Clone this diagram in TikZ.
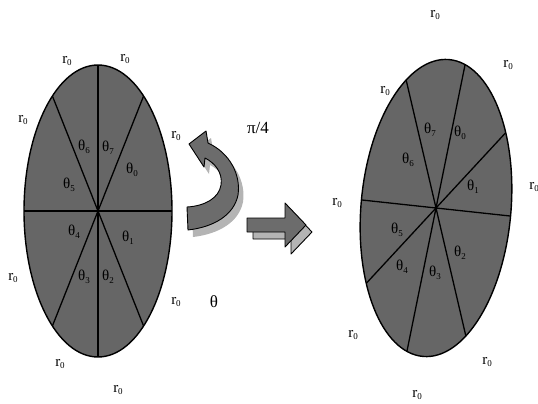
\documentclass[tikz,border=0pt]{standalone}
\usepackage{fontspec}
\setmainfont{Liberation Serif}
\definecolor{discgray}{RGB}{102,102,102}
\definecolor{arrgray}{RGB}{108,108,108}
\definecolor{shadegray}{RGB}{180,180,180}
\newcommand{\lowsub}[1]{\raisebox{-0.4ex}{\fontsize{9}{9}\selectfont #1}}
\newcommand{\rz}{r\lowsub{0}}
\newcommand{\tq}[1]{θ\lowsub{#1}}
\begin{document}
\begin{tikzpicture}[x=1pt,y=-1pt,
  rim/.style={draw=black, line width=1.4pt},
  ray/.style={draw=black, line width=1.3pt},
  lab/.style={inner sep=0pt, font=\fontsize{15}{15}\selectfont},
  arr/.style={fill=arrgray, draw=black, line width=0.9pt, line join=round},
  shadowarr/.style={fill=shadegray, draw=black, line width=0.9pt, line join=round},
  softshadow/.style={fill=shadegray, draw=none}]
\useasboundingbox (0,0) rectangle (538,404);

% ---------- left disc ----------
\coordinate (L) at (98,211);
\begin{scope}
  \clip (L) ellipse [x radius=74pt, y radius=146pt];
  \fill[discgray] (L) ellipse [x radius=74pt, y radius=146pt];
  \draw[ray] (L) -- +(0,-170) (L) -- +(0,170);
  \draw[ray] (L) -- +(-90,0) (L) -- +(90,0);
  \draw[ray] (L) -- +(45.6,-115) (L) -- +(-45.6,115);
  \draw[ray] (L) -- +(-45.6,-115) (L) -- +(45.6,115);
\end{scope}
\draw[rim] (L) ellipse [x radius=74pt, y radius=146pt];

% ---------- right disc ----------
\coordinate (R) at (436,208);
\begin{scope}
  \clip[rotate around={-5:(R)}] (R) ellipse [x radius=75pt, y radius=149pt];
  \fill[discgray] (R) ++(-100,-170) rectangle ++(200,340);
  \draw[ray] (R) -- +(58,-286) (R) -- +(-58,286);
  \draw[ray] (R) -- +(137,-148) (R) -- +(-137,148);
  \draw[ray] (R) -- +(148,16) (R) -- +(-148,-16);
  \draw[ray] (R) -- +(-59,-253) (R) -- +(59,253);
\end{scope}
\draw[rim, rotate around={-5:(R)}] (R) ellipse [x radius=75pt, y radius=149pt];

% ---------- curved arrow ----------
\def\curvearrow{(189,144) -- (206,131) -- (208,143)
  .. controls (230,153) and (241,175) .. (238,195)
  .. controls (234,215) and (214,227) .. (188,230)
  -- (187,207)
  .. controls (205,206) and (219,198) .. (221,185)
  .. controls (223,173) and (215,163) .. (205,158)
  -- (204,167) -- cycle}
\begin{scope}[shift={(5,7)}]
  \fill[softshadow] \curvearrow;
\end{scope}
\draw[arr] \curvearrow;

% ---------- straight arrow ----------
\draw[shadowarr] (253,225) -- (291,225) -- (291,210) -- (312,232) -- (291,254) -- (291,239) -- (253,239) -- cycle;
\draw[arr] (247,218) -- (285,218) -- (285,203) -- (306,225) -- (285,247) -- (285,232) -- (247,232) -- cycle;

% ---------- labels, left ----------
\node[lab] (lr1) at (67,61) {\rz};
\node[lab] (lr2) at (125,59) {\rz};
\node[lab] (lr3) at (23,120) {\rz};
\node[lab] (lr4) at (176,136) {\rz};
\node[lab] (lr5) at (13,278) {\rz};
\node[lab] (lr6) at (176,302) {\rz};
\node[lab] (lr7) at (60,364) {\rz};
\node[lab] (lr8) at (118,390) {\rz};
\node[lab] (lt6) at (84,147) {\tq{6}};
\node[lab] (lt7) at (108,148) {\tq{7}};
\node[lab] (lt0) at (132,170) {\tq{0}};
\node[lab] (lt5) at (69,185) {\tq{5}};
\node[lab] (lt4) at (74,232) {\tq{4}};
\node[lab] (lt1) at (128,238) {\tq{1}};
\node[lab] (lt3) at (84,277) {\tq{3}};
\node[lab] (lt2) at (108,277) {\tq{2}};

% ---------- labels, middle ----------
\node[lab, font=\fontsize{17}{17}\selectfont] (pi) at (258,128) {π/4};
\node[lab, font=\fontsize{17}{17}\selectfont] (th) at (214,302) {θ};

% ---------- labels, right ----------
\node[lab] (rr1) at (435,15) {\rz};
\node[lab] (rr2) at (508,65) {\rz};
\node[lab] (rr3) at (385,91) {\rz};
\node[lab] (rr4) at (534,187) {\rz};
\node[lab] (rr5) at (337,203) {\rz};
\node[lab] (rr6) at (353,335) {\rz};
\node[lab] (rr7) at (487,362) {\rz};
\node[lab] (rr8) at (417,395) {\rz};
\node[lab] (rt7) at (430,130) {\tq{7}};
\node[lab] (rt0) at (460,133) {\tq{0}};
\node[lab] (rt6) at (408,160) {\tq{6}};
\node[lab] (rt1) at (473,187) {\tq{1}};
\node[lab] (rt5) at (397,230) {\tq{5}};
\node[lab] (rt2) at (460,253) {\tq{2}};
\node[lab] (rt4) at (402,267) {\tq{4}};
\node[lab] (rt3) at (435,273) {\tq{3}};
\end{tikzpicture}
\end{document}
